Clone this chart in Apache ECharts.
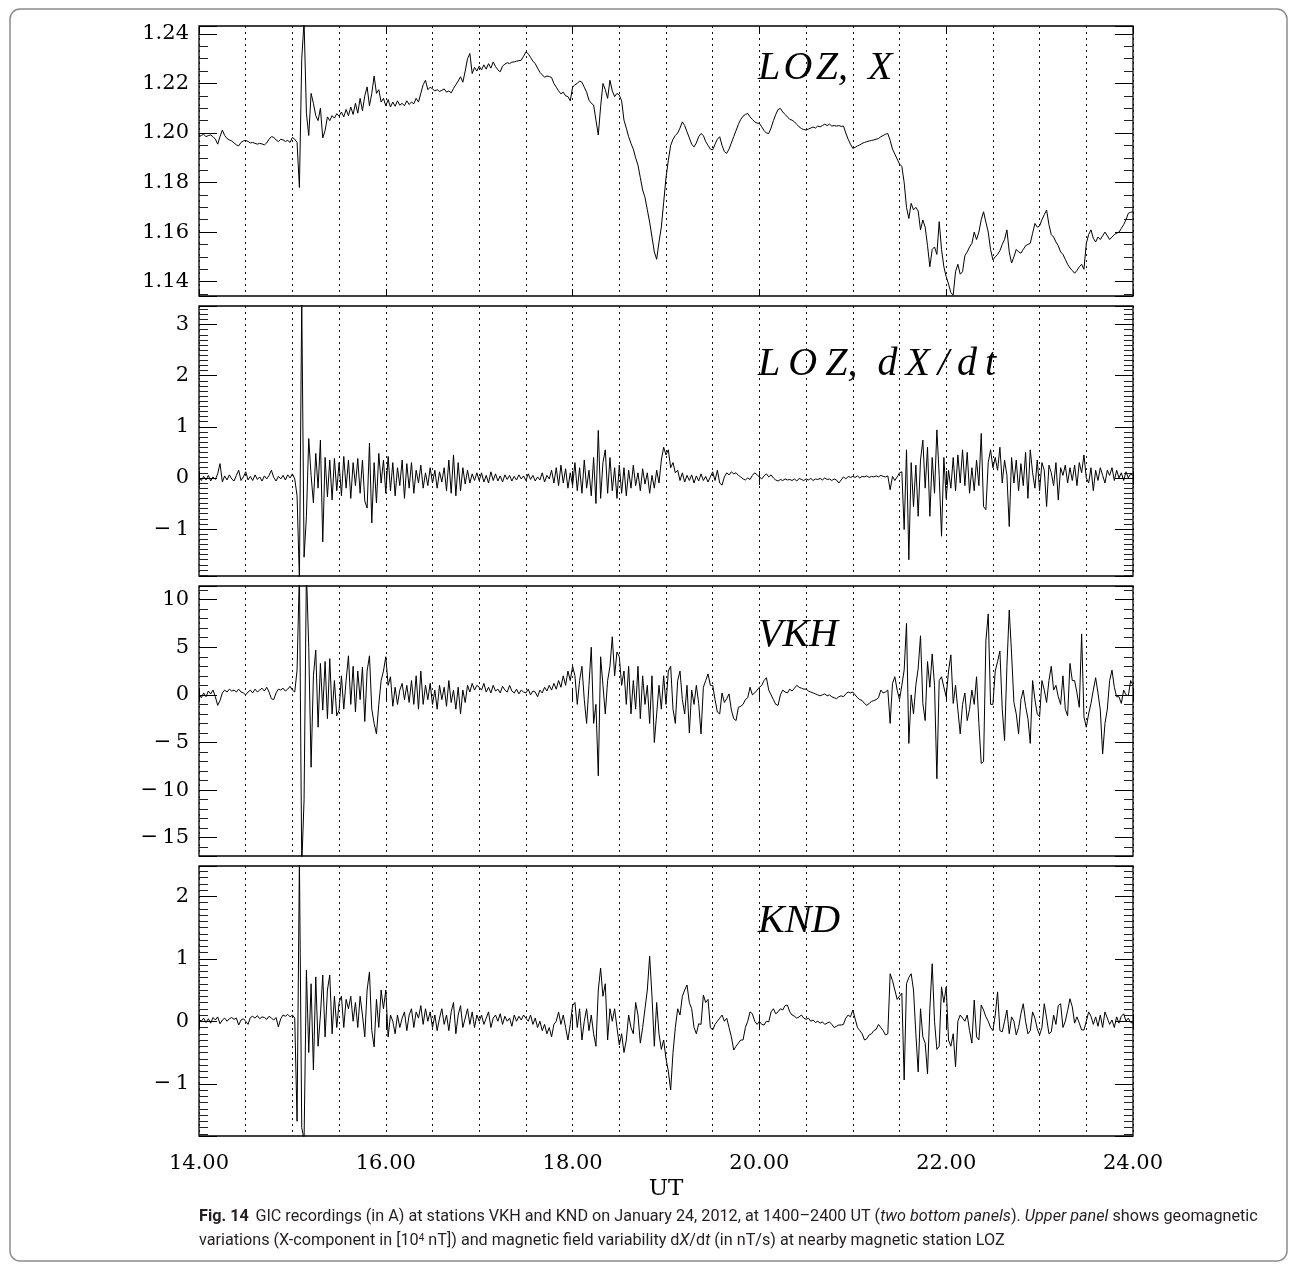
<!DOCTYPE html>
<html>
<head>
<meta charset="utf-8">
<script src="https://cdn.jsdelivr.net/npm/echarts@6/dist/echarts.min.js"></script>
<style>
html, body { margin: 0; padding: 0; background: #fff; }
#main { width: 1293px; height: 1267px; }
</style>
</head>
<body>
<div id="main"></div>
<script>
// sampling of all series: every 0.025 h (1.5 min) from 14.00 to 24.00 UT
var timeStart = 14;
var timeStep = 0.025;
var xTicks = [14, 16, 18, 20, 22, 24];

// LOZ, X  [10^4 nT]
var lozX = [
  1.1985,1.1990,1.1995,1.1985,1.1990,1.1992,1.1985,1.1975,1.1955,1.1985,1.2012,1.1990,1.1978,1.1972,1.1968,1.1960,1.1952,1.1948,1.1962,1.1968,
  1.1970,1.1966,1.1960,1.1962,1.1958,1.1955,1.1958,1.1956,1.1952,1.1960,1.1975,1.1985,1.1983,1.1972,1.1965,1.1975,1.1972,1.1966,1.1970,1.1962,
  1.1982,1.1975,1.1962,1.1780,1.2300,1.2450,1.2080,1.1990,1.2160,1.2120,1.2070,1.2050,1.2100,1.1980,1.2010,1.2065,1.2050,1.2070,1.2060,1.2078,
  1.2068,1.2085,1.2065,1.2095,1.2070,1.2105,1.2075,1.2120,1.2080,1.2140,1.2090,1.2150,1.2186,1.2110,1.2160,1.2230,1.2160,1.2175,1.2125,1.2140,
  1.2110,1.2135,1.2105,1.2125,1.2108,1.2130,1.2112,1.2120,1.2110,1.2130,1.2115,1.2125,1.2118,1.2140,1.2125,1.2160,1.2195,1.2213,1.2175,1.2185,
  1.2178,1.2170,1.2175,1.2168,1.2172,1.2178,1.2165,1.2170,1.2162,1.2180,1.2195,1.2210,1.2227,1.2205,1.2250,1.2300,1.2321,1.2240,1.2265,1.2250,
  1.2270,1.2255,1.2275,1.2258,1.2280,1.2262,1.2287,1.2268,1.2255,1.2247,1.2270,1.2278,1.2284,1.2280,1.2286,1.2287,1.2290,1.2292,1.2294,1.2310,
  1.2327,1.2320,1.2305,1.2290,1.2280,1.2262,1.2245,1.2235,1.2225,1.2230,1.2228,1.2224,1.2200,1.2185,1.2170,1.2158,1.2165,1.2150,1.2147,1.2130,
  1.2185,1.2195,1.2200,1.2210,1.2205,1.2185,1.2165,1.2133,1.2120,1.2113,1.2052,1.1992,1.2106,1.2200,1.2175,1.2140,1.2213,1.2170,1.2147,1.2160,
  1.2153,1.2130,1.2052,1.2020,1.1985,1.1958,1.1935,1.1900,1.1870,1.1820,1.1770,1.1740,1.1690,1.1640,1.1580,1.1520,1.1490,1.1560,1.1620,1.1720,
  1.1820,1.1890,1.1950,1.1975,1.1990,1.2000,1.2020,1.2045,1.2030,1.2005,1.1980,1.1955,1.1944,1.1960,1.1985,1.1998,1.1990,1.1965,1.1950,1.1935,
  1.1932,1.1955,1.1975,1.1985,1.1950,1.1925,1.1918,1.1935,1.1960,1.1985,1.2010,1.2035,1.2055,1.2068,1.2075,1.2079,1.2065,1.2055,1.2045,1.2040,
  1.2039,1.2025,1.2010,1.2000,1.1998,1.2020,1.2050,1.2075,1.2095,1.2099,1.2085,1.2075,1.2065,1.2055,1.2052,1.2045,1.2035,1.2025,1.2018,1.2014,
  1.2012,1.2016,1.2020,1.2024,1.2020,1.2028,1.2025,1.2030,1.2036,1.2030,1.2036,1.2028,1.2030,1.2028,1.2030,1.2027,1.2028,1.2000,1.1975,1.1955,
  1.1938,1.1942,1.1948,1.1952,1.1958,1.1962,1.1965,1.1968,1.1970,1.1972,1.1975,1.1978,1.1985,1.1990,1.1995,1.1998,1.1970,1.1935,1.1915,1.1895,
  1.1875,1.1865,1.1800,1.1700,1.1655,1.1716,1.1690,1.1700,1.1685,1.1609,1.1649,1.1620,1.1545,1.1460,1.1530,1.1540,1.1510,1.1642,1.1530,1.1460,
  1.1420,1.1390,1.1355,1.1346,1.1440,1.1470,1.1430,1.1440,1.1505,1.1520,1.1540,1.1554,1.1600,1.1570,1.1600,1.1650,1.1682,1.1640,1.1600,1.1530,
  1.1488,1.1500,1.1510,1.1525,1.1550,1.1570,1.1609,1.1520,1.1475,1.1500,1.1530,1.1520,1.1515,1.1530,1.1545,1.1550,1.1555,1.1595,1.1635,1.1620,
  1.1625,1.1650,1.1670,1.1689,1.1630,1.1590,1.1580,1.1560,1.1545,1.1520,1.1510,1.1490,1.1470,1.1455,1.1445,1.1434,1.1445,1.1460,1.1470,1.1450,
  1.1554,1.1590,1.1609,1.1575,1.1560,1.1580,1.1570,1.1585,1.1600,1.1585,1.1570,1.1580,1.1590,1.1595,1.1600,1.1615,1.1630,1.1650,1.1676,1.1680,
  1.1682
];

// LOZ, dX/dt  [nT/s]
var lozDxdt = [
  0.02,-0.05,0.03,-0.04,0.05,-0.06,0.02,-0.03,0.08,0.28,-0.08,0.04,-0.04,0.06,-0.02,-0.06,0.05,0.15,-0.05,0.02,
  0.12,-0.04,0.03,-0.05,0.06,-0.03,0.02,-0.06,0.04,-0.02,0.05,0.15,0.01,-0.06,0.03,-0.02,0.05,-0.04,0.06,0.00,
  0.08,-0.02,-0.35,-2.00,3.50,-1.55,-0.75,0.77,0.05,-0.49,0.48,-0.20,0.74,-1.25,0.40,-0.37,0.35,-0.43,0.38,-0.25,
  0.30,-0.35,0.42,-0.20,0.35,-0.40,0.30,-0.15,0.38,-0.30,0.35,-0.45,-0.59,0.68,-0.88,0.30,-0.49,0.48,-0.10,0.35,
  -0.30,0.42,-0.25,0.30,-0.35,0.20,-0.15,0.35,-0.40,0.28,-0.20,0.30,-0.30,0.15,-0.10,0.25,-0.20,0.10,-0.15,0.20,
  -0.10,0.15,-0.20,0.12,-0.08,0.20,-0.25,0.35,-0.30,0.45,-0.35,0.30,-0.25,0.20,-0.12,0.15,-0.10,0.08,-0.05,0.10,
  -0.05,0.10,-0.08,0.05,-0.10,0.12,-0.05,0.08,-0.06,0.04,-0.08,0.06,-0.03,0.05,-0.06,0.03,-0.04,0.06,-0.02,0.04,
  -0.05,0.08,-0.03,0.05,-0.06,0.02,-0.04,0.10,-0.08,0.05,-0.02,0.15,-0.10,0.20,-0.15,0.25,-0.10,0.18,-0.20,0.10,
  -0.15,0.30,-0.25,0.20,-0.30,0.35,-0.20,0.15,-0.35,0.40,-0.50,0.93,-0.40,0.30,0.55,-0.30,0.40,-0.25,0.20,-0.40,
  0.25,-0.30,0.20,-0.35,0.15,-0.20,0.25,-0.15,0.10,-0.25,0.18,-0.12,0.10,-0.30,0.05,-0.20,0.15,-0.10,0.35,0.60,
  0.45,0.55,0.20,0.30,0.10,0.15,-0.05,0.10,-0.08,0.05,-0.05,0.06,-0.10,0.04,-0.06,0.08,-0.05,0.03,-0.08,0.02,
  0.12,-0.05,0.15,-0.10,-0.14,0.02,0.10,0.06,0.12,0.08,0.10,0.05,0.02,-0.02,-0.04,0.00,-0.03,0.05,0.10,0.06,
  0.02,-0.02,0.04,0.08,0.02,0.06,0.00,-0.04,-0.06,-0.03,-0.05,-0.02,-0.04,-0.03,-0.05,-0.02,-0.06,-0.01,-0.03,-0.05,
  -0.02,-0.04,-0.01,-0.05,-0.02,-0.03,-0.01,-0.04,0.00,-0.03,-0.02,-0.05,-0.02,-0.04,-0.10,-0.04,0.02,-0.02,0.03,0.01,
  0.03,0.01,0.04,0.00,0.03,0.02,0.04,0.01,0.03,0.02,0.04,0.02,0.05,0.03,0.02,0.04,-0.23,0.03,-0.05,0.02,
  0.10,0.12,-1.01,0.55,-1.60,0.30,-0.56,0.25,-0.75,0.35,0.74,-0.20,0.60,-0.75,0.40,-0.30,0.94,0.05,-1.14,0.40,
  -0.40,0.15,-0.20,0.40,-0.25,0.45,-0.10,0.55,-0.15,0.50,-0.30,0.20,-0.25,0.35,-0.15,0.87,-0.56,-0.62,0.30,0.55,
  0.20,0.40,0.15,0.60,-0.10,0.35,0.05,-0.95,0.40,-0.10,0.35,-0.25,0.28,-0.15,0.50,-0.40,0.55,0.10,-0.20,0.35,
  -0.25,0.30,0.15,-0.56,0.25,0.10,-0.15,0.30,-0.43,0.20,0.05,0.25,-0.10,0.20,-0.05,0.25,-0.15,0.30,0.10,0.45,
  0.00,-0.10,0.20,-0.25,0.15,-0.05,0.20,0.05,-0.10,0.15,0.05,0.20,-0.05,0.15,0.00,0.10,-0.05,0.12,0.00,0.08,
  0.05
];

// GIC at VKH  [A]
var vkh = [
  0.0,-0.3,0.2,-0.2,0.4,0.1,0.5,-0.2,-1.1,-0.6,0.2,0.5,0.3,0.6,0.4,0.5,0.3,0.6,0.3,0.2,
  0.0,0.3,0.5,0.2,0.6,0.3,0.5,0.7,0.4,0.8,0.3,-0.4,-0.5,0.2,0.6,0.5,0.7,0.4,0.6,0.9,
  0.5,0.3,2.6,13.0,-18.0,-11.0,13.0,5.0,-7.6,2.0,4.7,-3.4,3.3,-1.6,3.5,-2.5,3.8,-2.0,1.5,-2.2,
  -1.6,2.0,-1.5,1.5,4.1,-1.0,3.0,-1.8,2.5,-0.5,2.9,-2.8,2.5,4.1,-1.5,-3.0,-4.1,-1.0,1.5,2.5,
  4.0,1.0,1.9,-1.2,0.8,-1.0,0.5,1.2,-0.5,1.0,-0.8,1.5,-1.0,2.0,-1.5,2.5,-1.0,1.0,-0.5,1.2,
  -1.0,0.5,-1.5,1.0,-0.5,0.8,-1.2,1.5,-0.8,0.5,-1.5,0.8,-2.0,0.5,-0.8,1.0,0.3,1.2,0.5,1.0,
  0.8,0.5,1.2,0.3,0.8,0.2,1.0,0.4,0.6,0.2,0.9,0.5,0.3,1.0,0.4,0.2,0.6,0.1,0.5,0.3,
  0.2,0.6,0.0,0.4,0.3,-0.2,0.5,0.2,0.8,0.4,1.0,0.5,1.2,0.6,1.5,0.8,2.0,1.0,2.5,1.5,
  3.0,2.0,-1.0,1.5,3.0,-0.5,-3.0,1.0,5.0,-3.0,-1.0,-8.5,4.0,1.0,-2.0,1.5,3.0,6.1,2.0,4.5,
  4.0,1.0,2.5,-1.0,3.0,-2.0,1.5,-1.5,3.0,-2.5,2.0,-1.0,1.0,-3.0,2.0,-5.0,-2.0,1.0,-1.5,2.0,
  -1.0,2.5,3.0,-1.5,-3.0,1.5,2.5,-0.5,-2.0,1.0,-4.0,0.5,-1.0,1.0,-0.9,-4.1,0.8,1.5,2.2,1.0,
  1.0,-0.5,-1.8,-2.0,0.2,-0.8,-0.4,0.1,-1.6,-2.5,-2.7,-1.3,-1.2,-1.0,-0.5,-0.3,0.8,0.0,0.2,0.5,
  0.8,1.0,1.5,1.8,0.5,0.0,-0.5,-1.0,-1.1,0.0,0.5,0.3,0.2,0.6,0.4,0.7,1.0,0.8,0.7,0.6,
  0.6,0.4,0.3,0.2,0.1,0.0,-0.1,0.0,0.1,-0.1,0.0,-0.2,-0.3,-0.4,-0.2,-0.1,-0.2,0.1,0.3,0.2,
  0.3,0.0,-0.3,-0.5,-0.6,-0.9,-1.1,-0.9,-0.7,-0.6,-0.5,-0.3,0.5,0.2,0.3,0.5,-3.0,1.2,1.9,0.5,
  -0.5,1.0,2.6,7.5,-5.1,0.0,-2.0,1.0,2.8,6.2,-0.9,-2.7,3.5,0.8,4.3,1.0,-8.8,1.5,1.9,0.8,
  -0.2,2.5,4.2,-0.9,1.0,-1.6,-4.1,-1.0,0.2,-2.7,-1.5,0.5,-1.0,1.9,-3.0,-7.2,-7.0,5.7,8.5,-1.0,
  -1.0,2.5,3.5,4.6,-1.5,-4.8,3.0,8.9,4.3,-0.8,-2.0,-4.1,-0.5,0.5,-1.2,-2.5,-5.1,1.5,-0.5,-2.0,
  -2.3,1.5,0.5,-0.8,1.5,3.0,0.5,1.0,-0.2,-1.0,2.0,-1.5,-2.2,3.3,1.5,1.5,0.2,-1.3,6.4,-2.3,
  -3.4,-2.0,-0.9,0.5,1.8,0.2,-1.6,-6.2,-3.0,-1.5,1.5,2.6,0.8,-0.2,-0.2,-0.9,0.5,0.0,-0.1,1.5,
  1.0
];

// GIC at KND  [A]
var knd = [
  0.03,0.00,0.05,-0.02,0.04,-0.03,0.06,0.02,0.07,-0.04,0.02,0.05,0.00,0.04,0.06,0.03,0.05,-0.06,0.02,0.04,
  0.00,-0.05,0.06,0.08,0.05,0.09,0.04,0.07,0.06,0.03,0.08,0.05,0.02,0.06,-0.09,0.04,0.10,0.08,0.11,0.07,
  0.10,0.05,-1.60,2.60,-1.70,-1.90,0.82,-0.50,0.60,-0.78,0.71,-0.40,0.10,0.74,-0.25,0.50,0.74,-0.20,0.40,-0.10,
  0.30,0.40,-0.10,0.35,0.20,0.40,0.00,0.30,-0.10,0.40,0.10,-0.25,0.50,0.79,-0.15,-0.41,0.35,-0.10,0.50,0.20,
  0.50,-0.25,0.10,0.00,-0.20,0.10,-0.10,0.05,0.15,-0.15,0.10,0.20,-0.10,0.15,0.05,0.25,-0.05,0.20,0.00,0.15,
  -0.10,0.10,-0.15,0.05,0.20,-0.05,0.10,-0.15,0.15,0.30,-0.20,0.10,0.25,-0.10,0.05,0.20,-0.05,0.15,-0.10,0.10,
  0.00,0.10,-0.05,0.05,0.15,-0.10,0.05,0.10,0.00,0.12,-0.05,0.08,0.00,0.05,-0.08,0.10,0.00,0.08,0.02,0.10,
  0.05,0.00,0.10,-0.05,0.05,-0.10,0.00,-0.15,-0.05,-0.20,-0.10,-0.25,-0.05,0.00,0.15,-0.05,0.10,-0.10,-0.30,-0.05,
  0.25,0.30,-0.10,0.20,-0.30,0.00,0.20,-0.15,0.10,-0.20,-0.40,0.50,0.85,0.40,0.60,-0.30,0.20,0.00,0.20,-0.10,
  -0.38,-0.20,-0.50,-0.30,0.10,-0.10,-0.20,0.30,0.10,-0.35,-0.10,0.20,0.50,1.04,0.40,-0.40,0.30,-0.20,-0.45,-0.30,
  -0.60,-0.80,-1.10,-0.50,-0.10,0.20,0.10,0.40,0.50,0.58,0.30,0.20,-0.10,-0.20,-0.04,-0.05,0.42,0.30,0.35,-0.10,
  -0.14,-0.05,0.00,0.05,0.10,0.00,0.05,-0.10,-0.25,-0.46,-0.40,-0.35,-0.30,-0.30,-0.10,0.00,0.15,0.12,0.00,-0.05,
  0.00,-0.05,-0.06,0.00,-0.01,0.15,0.20,0.12,0.15,0.20,0.18,0.25,0.26,0.15,0.10,0.08,0.05,0.07,0.10,0.05,
  0.03,0.05,0.00,0.02,-0.02,0.00,-0.03,-0.01,-0.05,-0.03,-0.01,-0.05,-0.10,-0.08,-0.06,-0.06,-0.05,0.05,0.10,0.07,
  0.18,0.04,-0.10,-0.15,-0.20,-0.30,-0.28,-0.22,-0.20,-0.15,-0.13,-0.05,-0.10,-0.15,-0.22,-0.20,0.76,0.65,0.50,0.35,
  0.40,0.45,-0.94,0.60,0.70,0.76,0.50,-0.20,-0.81,0.20,-0.25,-0.35,-0.84,0.20,0.92,0.00,-0.45,-0.40,0.55,0.30,
  0.55,-0.30,-0.40,-0.20,-0.73,0.00,0.10,0.05,0.00,0.10,-0.15,-0.35,0.34,-0.25,-0.30,0.26,0.18,0.07,0.00,-0.10,
  -0.15,0.10,0.47,-0.15,-0.17,0.00,0.18,-0.20,0.07,0.00,-0.22,-0.10,0.12,0.28,0.00,-0.20,-0.15,0.15,0.05,-0.12,
  -0.22,-0.10,0.28,0.05,-0.20,-0.17,0.10,-0.05,0.25,0.28,-0.10,0.00,0.17,0.36,0.23,-0.03,0.07,-0.03,-0.14,-0.14,
  0.00,0.15,0.08,-0.05,0.07,-0.08,0.10,-0.10,0.15,0.05,-0.05,0.02,-0.10,0.07,-0.03,0.08,0.12,0.00,0.05,-0.02,
  -0.03
];

var panelNames = ['L\u200AO\u200AZ,\u2002X', 'L\u2009O\u2009Z,\u2002d\u2009X\u2009/\u2009d\u2009t', 'VKH', 'KND'];

// axis ranges of the four panels
var panels = [
  { data: lozX,    min: 1.1342, max: 1.2432, step: 0.02, minor: 4,  dec: 2 },
  { data: lozDxdt, min: -1.918, max: 3.363,  step: 1,    minor: 10, dec: 0 },
  { data: vkh,     min: -16.92, max: 11.43,  step: 5,    minor: 5,  dec: 0 },
  { data: knd,     min: -1.836, max: 2.484,  step: 1,    minor: 10, dec: 0 }
];

var gridTops = [26, 306, 586, 866];
var titleY = [70, 366, 637, 923];
var serif = 'DejaVu Serif';

function toPairs(arr) {
  return arr.map(function (v, i) { return [timeStart + i * timeStep, v]; });
}

function yFormatter(step, dec) {
  return function (v) {
    var k = v / step;
    if (Math.abs(k - Math.round(k)) > 1e-6) return '';
    var s = Math.abs(v).toFixed(dec);
    return v < -1e-9 ? '\u2212\u2009' + s : s;
  };
}

var dotted = { color: '#111', width: 1, type: [2, 4] };
var tickStyle = { color: '#000', width: 1 };

var grids = [], xAxes = [], yAxes = [], series = [], graphics = [];

panels.forEach(function (p, i) {
  grids.push({
    left: 199, right: 160, top: gridTops[i], height: 270,
    show: true, borderColor: '#000', borderWidth: 1.3, backgroundColor: 'transparent'
  });

  xAxes.push({
    type: 'value', gridIndex: i, position: 'bottom',
    min: xTicks[0], max: xTicks[xTicks.length - 1], interval: 2,
    axisLine: { show: false },
    axisTick: { show: true, inside: true, length: 7, lineStyle: tickStyle },
    minorTick: { show: false, splitNumber: 4 },
    splitLine: { show: true, lineStyle: dotted },
    minorSplitLine: { show: true, lineStyle: dotted },
    axisLabel: {
      show: i === 3, margin: 17, color: '#000', fontFamily: serif, fontSize: 21,
      formatter: function (v) { return v.toFixed(2); }
    },
    name: i === 3 ? 'UT' : '',
    nameLocation: 'middle', nameGap: 42,
    nameTextStyle: { color: '#000', fontFamily: serif, fontSize: 23 }
  });
  xAxes.push({
    type: 'value', gridIndex: i, position: 'top',
    min: xTicks[0], max: xTicks[xTicks.length - 1], interval: 2,
    axisLine: { show: false },
    axisTick: { show: true, inside: true, length: 7, lineStyle: tickStyle },
    axisLabel: { show: false },
    splitLine: { show: false }
  });

  ['left', 'right'].forEach(function (side) {
    yAxes.push({
      type: 'value', gridIndex: i, position: side,
      min: p.min, max: p.max, minInterval: p.step, maxInterval: p.step,
      axisLine: { show: false },
      axisTick: { show: true, inside: true, length: 18, lineStyle: tickStyle },
      minorTick: { show: true, splitNumber: p.minor, length: 9, lineStyle: { color: '#222', width: 1 } },
      splitLine: { show: false },
      axisLabel: {
        show: side === 'left', margin: 10, color: '#000', fontFamily: serif, fontSize: 21,
        formatter: yFormatter(p.step, p.dec)
      }
    });
  });

  series.push({
    type: 'line', xAxisIndex: 2 * i, yAxisIndex: 2 * i,
    data: toPairs(p.data), showSymbol: false, symbol: 'none',
    lineStyle: { color: '#000', width: 1 }, silent: true, animation: false
  });

  graphics.push({
    type: 'text', left: 758, top: titleY[i] - 22,
    style: { text: panelNames[i], font: 'italic 40px "Liberation Serif"', fill: '#000' }
  });
});

var capFont = 'Roboto';
var capSize = 16.2;
graphics.push({
  type: 'rect', silent: true,
  shape: { x: 10, y: 9, width: 1277, height: 1252, r: 10 },
  style: { fill: 'none', stroke: '#8c8c8c', lineWidth: 1.5 }
});
graphics.push({
  type: 'text', left: 199, top: 1205,
  style: {
    text: '{b|Fig. 14}  {n|GIC recordings (in A) at stations VKH and KND on January 24, 2012, at 1400\u20132400 UT (}{i|two bottom panels}{n|). }{i|Upper panel}{n| shows geomagnetic}\n' +
          '{n|variations (X-component in [10}{s|4}{n| nT]) and magnetic field variability d}{i|X}{n|/d}{i|t}{n| (in nT/s) at nearby magnetic station LOZ}',
    fill: '#231f20', lineHeight: 24,
    rich: {
      b: { fontFamily: capFont, fontSize: capSize, fontWeight: 'bold', fill: '#231f20', lineHeight: 24 },
      n: { fontFamily: capFont, fontSize: capSize, fill: '#231f20', lineHeight: 24 },
      i: { fontFamily: capFont, fontSize: capSize, fontStyle: 'italic', fill: '#231f20', lineHeight: 24 },
      s: { fontFamily: capFont, fontSize: 10, fill: '#231f20', verticalAlign: 'top', lineHeight: 24, padding: [4, 0, 0, 0] }
    }
  }
});

var chart = echarts.init(document.getElementById('main'));
chart.setOption({
  animation: false,
  backgroundColor: '#fff',
  grid: grids,
  xAxis: xAxes,
  yAxis: yAxes,
  series: series,
  graphic: graphics
});
</script>
</body>
</html>
